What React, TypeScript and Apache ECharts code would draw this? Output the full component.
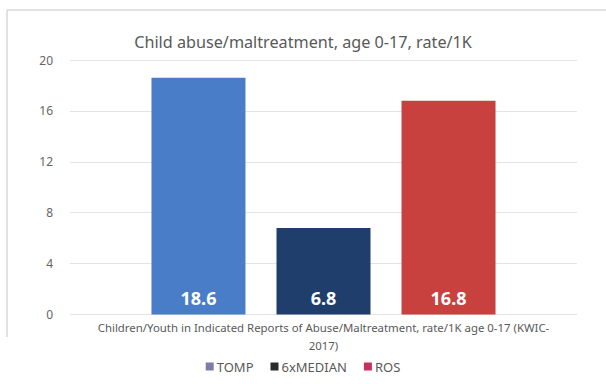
import React, { useEffect, useRef } from "react";
import * as echarts from "echarts";

const titleText = "Child abuse/maltreatment, age 0-17, rate/1K";
const categories = [
  "Children/Youth in Indicated Reports of Abuse/Maltreatment, rate/1K age 0-17 (KWIC-\n2017)",
];
const seriesNames = ["TOMP", "6xMEDIAN", "ROS"];
const tompValues = [18.6];
const medianValues = [6.8];
const rosValues = [16.8];
const barColors = ["#4a7dc8", "#1f3e6c", "#c8413f"];
const legendColors = ["#7c7ca6", "#2b2b2b", "#c4325e"];
const yTicks = { min: 0, max: 20, interval: 4 };

export default function App() {
  const ref = useRef<HTMLDivElement>(null);
  useEffect(() => {
    if (!ref.current) return;
    const chart = echarts.init(ref.current, null, { renderer: "svg" });
    const font = "'Noto Sans', 'Open Sans', sans-serif";
    const values = [tompValues, medianValues, rosValues];
    chart.setOption({
      animation: false,
      backgroundColor: "#ffffff",
      textStyle: { fontFamily: font },
      title: {
        text: titleText,
        left: "center",
        top: 29,
        textStyle: { fontSize: 16.2, fontWeight: "normal", color: "#595959", fontFamily: font },
      },
      graphic: [
        { type: "line", shape: { x1: 7, y1: 10, x2: 606, y2: 10 }, style: { stroke: "#d9d9d9", lineWidth: 1.5 } },
        { type: "line", shape: { x1: 7, y1: 10, x2: 7, y2: 337 }, style: { stroke: "#d9d9d9", lineWidth: 1.5 } },
      ],
      legend: {
        data: seriesNames.map((n, i) => ({ name: n, itemStyle: { color: legendColors[i] } })),
        top: 355,
        left: "center",
        icon: "rect",
        itemWidth: 8,
        itemHeight: 8,
        itemGap: 17,
        textStyle: { fontSize: 13, color: "#595959", fontFamily: font, padding: [0, 0, 0, -2] },
      },
      grid: { left: 70, right: 29, top: 60, bottom: 69.5, containLabel: false },
      xAxis: {
        type: "category",
        data: categories,
        axisLine: { show: false },
        axisTick: { show: false },
        axisLabel: {
          fontSize: 11.4,
          color: "#595959",
          lineHeight: 18,
          margin: 4,
          interval: 0,
          align: "center",
          fontFamily: font,
        },
      },
      yAxis: {
        type: "value",
        min: yTicks.min,
        max: yTicks.max,
        interval: yTicks.interval,
        axisLine: { show: false },
        axisTick: { show: false },
        axisLabel: { fontSize: 12, color: "#666666", margin: 17, fontFamily: font },
        splitLine: { lineStyle: { color: "#e3e3e3", width: 1 } },
      },
      series: seriesNames.map((n, i) => ({
        name: n,
        type: "bar",
        data: values[i],
        barWidth: 94,
        barGap: "33%",
        itemStyle: { color: barColors[i] },
        label: {
          show: true,
          position: "insideBottom",
          distance: 8,
          color: "#ffffff",
          fontSize: 18,
          fontWeight: "bold",
          fontFamily: font,
        },
      })),
    });
    return () => chart.dispose();
  }, []);
  return <div ref={ref} style={{ width: 606, height: 384, position: "absolute", left: 0, top: 0 }} />;
}
